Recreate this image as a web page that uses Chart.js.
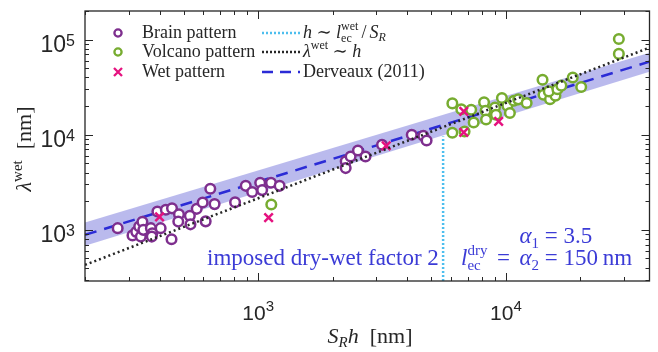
<!DOCTYPE html>
<html>
<head>
<meta charset="utf-8">
<script src="https://cdn.jsdelivr.net/npm/chart.js@4.4.1/dist/chart.umd.min.js"></script>
<style>
  html, body { margin: 0; padding: 0; background: #fff; }
  #wrap { width: 658px; height: 352px; }
</style>
</head>
<body>
<div id="wrap"><canvas id="lambdaChart" width="658" height="352"></canvas></div>
<script>
// Data
const brainX = [271, 311, 322, 336, 331, 341, 344, 369, 374, 372, 404, 392, 424, 449, 447, 479, 476, 530, 533, 565,
                597, 614, 641, 667, 807, 891, 946, 1019, 1038, 1127, 1221, 2256, 2256, 2362, 2528, 2712, 3162, 4169, 4643, 4786];
const brainY = [1042, 875, 953, 850, 1083, 1214, 1000, 1042, 923, 850, 1042, 1559, 1625, 1684, 798, 1456, 1222, 1404, 1143, 1664,
                1938, 1229, 2701, 1865, 1948, 2904, 2500, 3124, 2618, 3124, 2904, 5261, 4462, 5910, 6839, 5910, 7848, 10000, 9760, 8710];

const volcanoX = [1130, 6081, 6081, 6607, 6811, 7244, 7413, 8166, 8279, 8318, 9036, 9120, 9638, 10140, 10380,
                  10770, 11220, 12130, 14060, 14190, 15070, 15850, 14900, 16140, 16750, 18620, 20140, 28580, 28580];
const volcanoY = [1846, 21360, 10497, 18540, 10835, 18320, 13470, 21980, 17890, 14490, 19370, 16240, 24330, 20200, 16920,
                  22800, 23550, 21580, 37930, 26370, 23660, 25730, 28560, 30130, 32820, 39990, 31790, 101600, 70790];

const wetX = [400, 1102, 3289, 6761, 6761, 9350];
const wetY = [1370, 1348, 7660, 17580, 10570, 13800];

// reference lines (end points)
const fitX = [200, 38000];
const derveauxY = [886, 58650];
const bandLowY = [679, 46000];
const bandHighY = [1194, 72950];
const linearY = [428, 82400];
const cutoffX = [5580, 5580];
const cutoffY = [290, 9600];

// axes
const xRange = [200, 38000];
const yRange = [290, 200000];
const xDecades = [3, 4];
const yDecades = [3, 4, 5];

const PURPLE = '#7E2F8E';
const GREEN = '#77AC30';
const MAGENTA = '#E5127F';
const CYAN = '#4DBEEE';
const BLUE = '#2B2BD6';
const BAND = 'rgba(140, 140, 225, 0.6)';
const TEXTBLUE = '#3B3BD6';
const INK = '#262626';
const SERIF = '"Liberation Serif", "DejaVu Serif", serif';
const SANS = '"Liberation Sans", Arial, sans-serif';

const zip = (xs, ys) => xs.map((x, i) => ({ x: x, y: ys[i] }));

// draw a row of text pieces; piece = {t, f, dy} or {sup, sub, f}
function pieceWidth(ctx, r) {
    ctx.font = r.f;
    if (r.sup !== undefined) {
        return Math.max(ctx.measureText(r.sup).width, ctx.measureText(r.sub).width);
    }
    return ctx.measureText(r.t).width;
}

function drawRuns(ctx, x, y, runs, align, color) {
    let cx = x;
    const w = runs.reduce((s, r) => s + pieceWidth(ctx, r), 0);
    if (align === 'center') cx = x - w / 2;
    if (align === 'right') cx = x - w;
    ctx.fillStyle = color;
    ctx.textBaseline = 'alphabetic';
    ctx.textAlign = 'left';
    const starts = [];
    runs.forEach(r => {
        starts.push(cx);
        const pw = pieceWidth(ctx, r);
        ctx.font = r.f;
        if (r.sup !== undefined) {
            ctx.fillText(r.sup, cx, y - (r.up || 8));
            ctx.fillText(r.sub, cx, y + (r.down || 4));
        } else {
            ctx.fillText(r.t, cx, y + (r.dy || 0));
        }
        cx += pw;
    });
    return starts;
}

const decorations = {
    id: 'decorations',
    afterDraw(chart) {
        const ctx = chart.ctx;
        const a = chart.chartArea;
        const xs = chart.scales.x;
        const ys = chart.scales.y;
        ctx.save();

        // frame
        ctx.strokeStyle = INK;
        ctx.lineWidth = 1.3;
        ctx.strokeRect(a.left, a.top, a.right - a.left, a.bottom - a.top);

        // ticks
        ctx.beginPath();
        for (let e = 2; e <= 4; e++) {
            for (let m = 1; m <= 9; m++) {
                const v = m * Math.pow(10, e);
                if (v < xRange[0] || v > xRange[1]) continue;
                const px = Math.round(xs.getPixelForValue(v)) + 0.5;
                const len = m === 1 ? 8 : 4;
                ctx.moveTo(px, a.bottom); ctx.lineTo(px, a.bottom - len);
                ctx.moveTo(px, a.top); ctx.lineTo(px, a.top + len);
            }
        }
        for (let e = 2; e <= 5; e++) {
            for (let m = 1; m <= 9; m++) {
                const v = m * Math.pow(10, e);
                if (v < yRange[0] || v > yRange[1]) continue;
                const py = Math.round(ys.getPixelForValue(v)) + 0.5;
                const len = m === 1 ? 8 : 4;
                ctx.moveTo(a.left, py); ctx.lineTo(a.left + len, py);
                ctx.moveTo(a.right, py); ctx.lineTo(a.right - len, py);
            }
        }
        ctx.lineWidth = 1;
        ctx.stroke();

        // tick labels
        ctx.fillStyle = INK;
        ctx.textAlign = 'left';
        ctx.textBaseline = 'alphabetic';
        xDecades.forEach(d => {
            const px = xs.getPixelForValue(Math.pow(10, d));
            ctx.font = '21px ' + SANS;
            const w10 = ctx.measureText('10').width;
            ctx.font = '15px ' + SANS;
            const wd = ctx.measureText(String(d)).width;
            const left = px - (w10 + wd) / 2;
            ctx.font = '21px ' + SANS;
            ctx.fillText('10', left, 320);
            ctx.font = '15px ' + SANS;
            ctx.fillText(String(d), left + w10, 311);
        });
        yDecades.forEach(d => {
            const py = ys.getPixelForValue(Math.pow(10, d));
            ctx.font = '16px ' + SANS;
            const wd = ctx.measureText(String(d)).width;
            ctx.font = '23px ' + SANS;
            const w10 = ctx.measureText('10').width;
            const right = a.left - 10;
            ctx.fillText('10', right - wd - w10, py + 12);
            ctx.font = '16px ' + SANS;
            ctx.fillText(String(d), right - wd, py + 6);
        });

        // axis titles
        const it22 = 'italic 22px ' + SERIF;
        const it15 = 'italic 15px ' + SERIF;
        const r22 = '22px ' + SERIF;
        const r15 = '15px ' + SERIF;
        drawRuns(ctx, 370, 343, [
            { t: 'S', f: it22 }, { t: 'R', f: it15, dy: 4 }, { t: 'h', f: it22 }, { t: '  [nm]', f: r22 }
        ], 'center', INK);

        ctx.save();
        ctx.translate(31, 149);
        ctx.rotate(-Math.PI / 2);
        drawRuns(ctx, 0, 0, [
            { t: 'λ', f: it22 }, { t: 'wet', f: r15, dy: -9 }, { t: '  [nm]', f: r22 }
        ], 'center', INK);
        ctx.restore();

        // legend
        const r18 = '18px ' + SERIF;
        const it18 = 'italic 18px ' + SERIF;
        const r12 = '12px ' + SERIF;
        const it12 = 'italic 12px ' + SERIF;
        const rows = [33, 52, 72];
        ctx.lineWidth = 2.3;
        ctx.strokeStyle = PURPLE;
        ctx.beginPath(); ctx.arc(118, rows[0], 3.6, 0, Math.PI * 2); ctx.stroke();
        ctx.strokeStyle = GREEN;
        ctx.beginPath(); ctx.arc(118, rows[1], 3.6, 0, Math.PI * 2); ctx.stroke();
        ctx.strokeStyle = MAGENTA;
        ctx.beginPath();
        ctx.moveTo(114, rows[2] - 4); ctx.lineTo(122, rows[2] + 4);
        ctx.moveTo(114, rows[2] + 4); ctx.lineTo(122, rows[2] - 4);
        ctx.stroke();
        drawRuns(ctx, 142, rows[0] + 5, [{ t: 'Brain pattern', f: r18 }], 'left', INK);
        drawRuns(ctx, 142, rows[1] + 5, [{ t: 'Volcano pattern', f: r18 }], 'left', INK);
        drawRuns(ctx, 142, rows[2] + 5, [{ t: 'Wet pattern', f: r18 }], 'left', INK);

        const sample = (y, color, dash) => {
            ctx.strokeStyle = color;
            ctx.lineWidth = 2.4;
            ctx.setLineDash(dash);
            ctx.beginPath(); ctx.moveTo(262, y); ctx.lineTo(300, y); ctx.stroke();
            ctx.setLineDash([]);
        };
        sample(rows[0], CYAN, [2, 2]);
        sample(rows[1], INK, [2, 2]);
        sample(rows[2], BLUE, [11, 7]);
        drawRuns(ctx, 303, rows[0] + 5, [
            { t: 'h', f: it18 }, { t: ' ∼ ', f: r18 }, { t: 'l', f: it18 },
            { sup: 'wet', sub: 'ec', f: r12, up: 8, down: 4 }, { t: '\u2006/\u2006', f: r18 }, { t: 'S', f: it18 }, { t: 'R', f: it12, dy: 3 }
        ], 'left', INK);
        drawRuns(ctx, 303, rows[1] + 5, [
            { t: 'λ', f: it18 }, { t: 'wet', f: r12, dy: -8 }, { t: ' ∼ ', f: r18 }, { t: 'h', f: it18 }
        ], 'left', INK);
        drawRuns(ctx, 303, rows[2] + 5, [{ t: 'Derveaux (2011)', f: r18 }], 'left', INK);

        // annotations
        const r23 = '23px ' + SERIF;
        const it23 = 'italic 23px ' + SERIF;
        const r15a = '15px ' + SERIF;
        drawRuns(ctx, 207, 265, [{ t: 'imposed dry-wet factor 2', f: r23 }], 'left', TEXTBLUE);
        const starts = drawRuns(ctx, 461, 265, [
            { t: 'l', f: it23 }, { sup: 'dry', sub: 'ec', f: r15a, up: 10, down: 5 }, { t: ' \u2006=\u2006 ', f: r23 },
            { t: 'α', f: it23 }, { t: '2', f: r15a, dy: 5 }, { t: ' = 150\u2009nm', f: r23 }
        ], 'left', TEXTBLUE);
        drawRuns(ctx, starts[3], 243, [
            { t: 'α', f: it23 }, { t: '1', f: r15a, dy: 5 }, { t: ' = 3.5', f: r23 }
        ], 'left', TEXTBLUE);

        ctx.restore();
    }
};

const lineSet = (label, ys, color, dash, order) => ({
    label: label,
    data: zip(fitX, ys),
    showLine: true,
    borderColor: color,
    borderWidth: 2.5,
    borderDash: dash,
    pointRadius: 0,
    fill: false,
    order: order
});

new Chart(document.getElementById('lambdaChart'), {
    type: 'scatter',
    data: {
        datasets: [
            {
                label: 'band high',
                data: zip(fitX, bandHighY),
                showLine: true,
                borderWidth: 0,
                borderColor: 'rgba(0,0,0,0)',
                backgroundColor: BAND,
                pointRadius: 0,
                fill: '+1',
                order: 10
            },
            {
                label: 'band low',
                data: zip(fitX, bandLowY),
                showLine: true,
                borderWidth: 0,
                borderColor: 'rgba(0,0,0,0)',
                pointRadius: 0,
                fill: false,
                order: 10
            },
            lineSet('Derveaux (2011)', derveauxY, BLUE, [12, 8], 9),
            {
                label: 'cutoff',
                data: zip(cutoffX, cutoffY),
                showLine: true,
                borderColor: CYAN,
                borderWidth: 2.5,
                borderDash: [2, 2],
                pointRadius: 0,
                order: 8
            },
            {
                label: 'Brain pattern',
                data: zip(brainX, brainY),
                pointStyle: 'circle',
                pointRadius: 4.8,
                borderWidth: 2.5,
                borderColor: PURPLE,
                backgroundColor: '#fff',
                order: 5
            },
            {
                label: 'Volcano pattern',
                data: zip(volcanoX, volcanoY),
                pointStyle: 'circle',
                pointRadius: 4.8,
                borderWidth: 2.5,
                borderColor: GREEN,
                backgroundColor: '#fff',
                order: 5
            },
            {
                label: 'Wet pattern',
                data: zip(wetX, wetY),
                pointStyle: 'crossRot',
                pointRadius: 6,
                borderWidth: 2.5,
                borderColor: MAGENTA,
                order: 4
            },
            lineSet('linear', linearY, INK, [2, 3], 1)
        ]
    },
    options: {
        responsive: false,
        animation: false,
        layout: { padding: { left: 85, right: 3, top: 11, bottom: 71 } },
        plugins: { legend: { display: false }, tooltip: { enabled: false } },
        scales: {
            x: { type: 'logarithmic', min: xRange[0], max: xRange[1], display: false },
            y: { type: 'logarithmic', min: yRange[0], max: yRange[1], display: false }
        }
    },
    plugins: [decorations]
});
</script>
</body>
</html>
